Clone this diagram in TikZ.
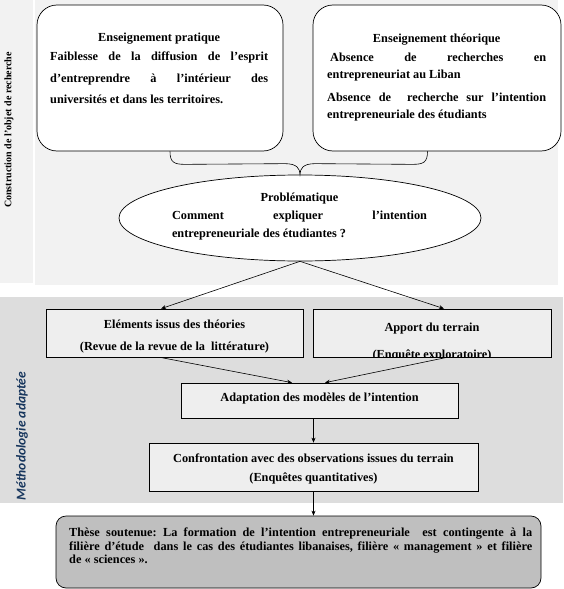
\documentclass[tikz,border=0pt]{standalone}
\usepackage{fontspec}
\setmainfont{Liberation Serif}
\newfontfamily\lblsans{Carlito}
\usetikzlibrary{shapes.geometric,calc,arrows.meta}
\definecolor{topbg}{HTML}{F2F2F2}
\definecolor{bandbg}{HTML}{DDDDDD}
\definecolor{boxfill}{HTML}{EEEEEE}
\definecolor{thesefill}{HTML}{BFBFBF}
\definecolor{navy}{HTML}{17365D}
\begin{document}
\hyphenpenalty=10000 \exhyphenpenalty=10000 \tolerance=10000 \parindent=0pt \frenchspacing
\begin{tikzpicture}[x=1pt,y=-1pt,
  every node/.style={font=\bfseries\fontsize{12.3}{14}\selectfont},
  roundbox/.style={draw, fill=white, rounded corners=20pt, line width=0.7pt, inner sep=0},
  plainbox/.style={draw, fill=boxfill, line width=0.7pt, inner sep=0},
  thesebox/.style={draw, fill=thesefill, rounded corners=10pt, line width=0.7pt, inner sep=0},
  txt/.style={inner sep=0, align=justify},
  ctxt/.style={inner sep=0, align=center, font=\bfseries\fontsize{12.3}{#1}\selectfont},
  arr/.style={-{Stealth[length=5pt,width=4pt]}, line width=0.6pt}]
\useasboundingbox (0,0) rectangle (563,589);
% backgrounds
\fill[topbg] (0,0) rectangle (33,283);
\fill[topbg] (35,0) rectangle (558,285);
\fill[bandbg] (0,297) rectangle (563,503);
% side labels
\node[rotate=90, inner sep=0, font=\bfseries\fontsize{10}{12}\selectfont] (lab1) at (9,130) {Construction de l’objet de recherche};
\node[rotate=90, inner sep=0, text=navy, font=\lblsans\bfseries\itshape\fontsize{13.5}{15}\selectfont] (lab2) at (22,436) {Méthodologie adaptée};
% top boxes
\node[roundbox, minimum width=246pt, minimum height=146pt] (b1) at (160,78) {};
\node[txt, text width=218pt, anchor=north west] (b1t) at (50,32.5)
 {\fontsize{12.3}{21.5}\selectfont{\centering Enseignement pratique\par}\vspace{-2pt}Faiblesse de la diffusion de l’esprit\linebreak d’entreprendre à l’intérieur des\linebreak universités et dans les territoires.\par};
\node[roundbox, minimum width=248pt, minimum height=146pt] (b2) at (437,78) {};
\node[txt, text width=219pt, anchor=north west] (b2t) at (327,33.6)
 {\fontsize{12.3}{17}\selectfont{\centering Enseignement théorique\par}\vspace{2pt}\hspace*{3pt}Absence de recherches en\linebreak entrepreneuriat au Liban\par\vspace{6pt}Absence de \ recherche sur l’intention\linebreak entrepreneuriale des étudiants\par};
% ellipse
\node[ellipse, draw, fill=white, line width=0.7pt, minimum width=362pt, minimum height=86pt, inner sep=0] (el) at (300,218) {};
\node[txt, text width=255pt, anchor=north] (elt) at (299.5,193)
 {\fontsize{12.3}{18}\selectfont{\centering Problématique\par}Comment expliquer l’intention\linebreak entrepreneuriale des étudiantes ?\par};
% brace
\coordinate (bl) at ($(b1.south)+(10,0)$);
\coordinate (br) at ($(b2.south)+(-9.5,0)$);
\coordinate (tip) at (el.north);
\draw[line width=0.6pt] (bl) .. controls ($(bl)+(0,11)$) and ($(bl)+(4,13)$) .. ($(bl)+(15,13)$)
  -- ($(tip)+(-15,-11)$) .. controls ($(tip)+(-3,-11)$) and ($(tip)+(0,-6)$) .. (tip)
  .. controls ($(tip)+(0,-6)$) and ($(tip)+(3,-11)$) .. ($(tip)+(15,-11)$)
  -- ($(br)+(-15,13)$) .. controls ($(br)+(-4,13)$) and ($(br)+(0,11)$) .. (br);
% middle boxes
\node[plainbox, minimum width=257pt, minimum height=48pt] (b3) at (174.5,333) {};
\node[ctxt=22, anchor=north] (b3t) at (174.5,319.5)
 {Eléments issus des théories\\(Revue de la revue de la \ littérature)};
\node[plainbox, minimum width=238pt, minimum height=48pt] (b4) at (432,333) {};
\begin{scope}
\clip (b4.north west) rectangle (b4.south east);
\node[ctxt=27, anchor=north] (b4t) at (432,322.7)
 {Apport du terrain\\(Enquête exploratoire)};
\end{scope}
\draw[line width=0.7pt] (b4.south west) -- (b4.south east);
\node[plainbox, minimum width=277pt, minimum height=35pt] (b5) at (319.5,400.5) {};
\node[inner sep=0, anchor=base] (b5t) at (319.5,401) {Adaptation des modèles de l’intention};
\node[plainbox, minimum width=329pt, minimum height=48pt] (b6) at (313.5,467) {};
\node[ctxt=19, anchor=north] (b6t) at (313.5,453.7)
 {Confrontation avec des observations issues du terrain\\(Enquêtes quantitatives)};
\node[thesebox, minimum width=485pt, minimum height=72pt] (b7) at (298.5,552) {};
\node[txt, text width=463pt, anchor=north west] (b7t) at (69,527.5)
 {\fontsize{12.3}{13.7}\selectfont Thèse soutenue: La formation de l’intention entrepreneuriale \ est contingente à la\linebreak filière d’étude \ dans le cas des étudiantes libanaises, filière « management » et filière\linebreak de « sciences ».\par};
% arrows
\draw[arr] (el.south) -- ($(b3.north)+(-13.5,0)$);
\draw[arr] (el.south) -- ($(b4.north)+(12,0)$);
\draw[arr] ($(b3.south)+(-14.5,0)$) -- ($(b5.north)+(-27.5,0)$);
\draw[arr] ($(b4.south)+(15,0)$) -- ($(b5.north)+(5.5,0)$);
\draw[arr] ($(b5.south)+(-6,0)$) -- (b6.north);
\draw[arr] (b6.south) -- ($(b7.north)+(15,0)$);
\end{tikzpicture}
\end{document}
